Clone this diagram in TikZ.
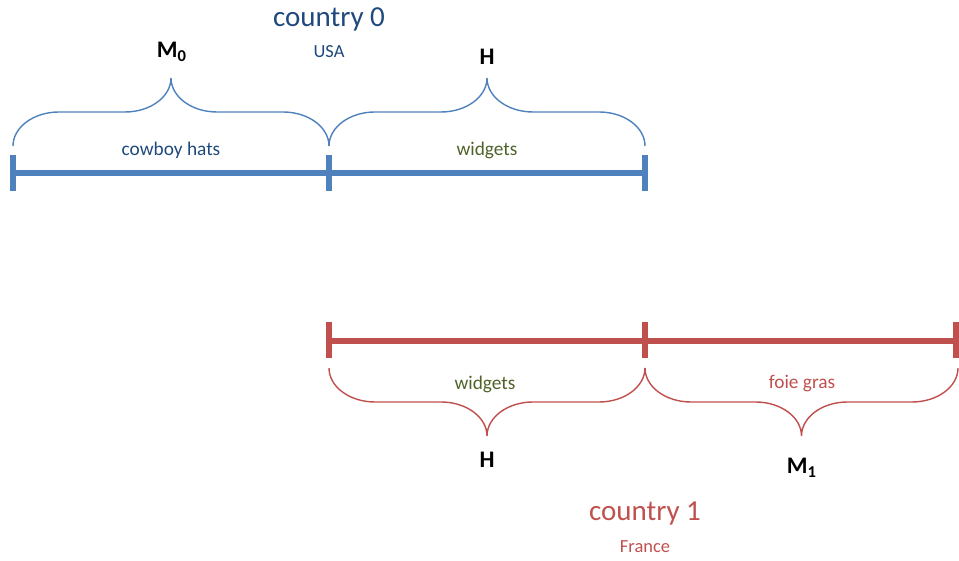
\documentclass[tikz,border=0pt]{standalone}
\usepackage{fontspec}
\setmainfont{Carlito}

\definecolor{barblue}{HTML}{4F81BD}
\definecolor{barred}{HTML}{C0504D}
\definecolor{textblue}{HTML}{1F497D}
\definecolor{textgreen}{HTML}{4F6228}

\begin{document}
\begin{tikzpicture}[x=0.2mm, y=0.2mm,
    every node/.style={inner sep=0pt},
    barline/.style={line width=3.4pt},
    tickmark/.style={line width=3.6pt},
    braceline/.style={line width=0.8pt},
    country/.style={font=\fontsize{16.5}{18}\selectfont},
    nation/.style={font=\fontsize{10.5}{12}\selectfont},
    good/.style={font=\fontsize{11}{13}\selectfont},
    factor/.style={font=\fontsize{13.5}{15}\selectfont\bfseries}]
    \useasboundingbox (0,0) rectangle (959,561);
    % endpoints of the two bars
    \coordinate (b0) at (13,388);
    \coordinate (b1) at (329,388);
    \coordinate (b2) at (645,388);
    \coordinate (r0) at (329,220);
    \coordinate (r1) at (645,220);
    \coordinate (r2) at (956,220);
    \draw [barline, barblue] (b0) -- (b2);
    \draw [barline, barred] (r0) -- (r2);
    \foreach \p in {b0,b1,b2} \draw [tickmark, barblue] ([yshift=3.6mm]\p) -- ([yshift=-3.7mm]\p);
    \foreach \p in {r0,r1,r2} \draw [tickmark, barred] ([yshift=3.7mm]\p) -- ([yshift=-3.5mm]\p);
    % braces
    \foreach \xa/\xb/\yb/\dd/\col in {13/329/415/1/barblue, 329/645/415/1/barblue,
                                      329/645/193/-1/barred, 645/958/193/-1/barred}
    {
    \begin{scope}[shift={(0,\yb)}, yscale=\dd]
    \draw [braceline, \col] (\xa,0) arc[start angle=180, end angle=90, x radius=9.2mm, y radius=6.8mm]
        -- ({(\xa+\xb)/2-46},34) arc[start angle=270, end angle=360, x radius=9.2mm, y radius=6.8mm]
        arc[start angle=180, end angle=270, x radius=9.2mm, y radius=6.8mm]
        -- ({\xb-46},34) arc[start angle=90, end angle=0, x radius=9.2mm, y radius=6.8mm];
    \end{scope}
    }
    % texts of country 0
    \node [country, textblue] (country0) at (329,542) {country 0};
    \node [nation, textblue] (usa) at (329,509) {USA};
    \node [factor] (m0) at (172,509) {M\textsubscript{0}};
    \node [factor] (h0) at (487,504) {H};
    \node [good, textblue] (hats) at (171,411) {cowboy hats};
    \node [good, textgreen] (widgets0) at (487,411) {widgets};
    % texts of country 1
    \node [good, textgreen] (widgets1) at (485,177) {widgets};
    \node [good, barred] (foiegras) at (802,177) {foie gras};
    \node [factor] (h1) at (487,101) {H};
    \node [factor] (m1) at (802,93) {M\textsubscript{1}};
    \node [country, barred] (country1) at (645,47) {country 1};
    \node [nation, barred] (france) at (645,14) {France};
\end{tikzpicture}
\end{document}
